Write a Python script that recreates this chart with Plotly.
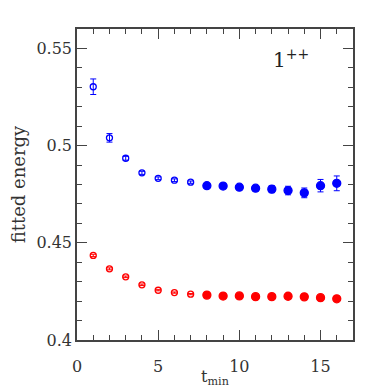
import plotly.graph_objects as go

# t_min values and fitted energies
t_open = [1, 2, 3, 4, 5, 6, 7]
t_fill = [8, 9, 10, 11, 12, 13, 14, 15, 16]

blue_open = [0.5303, 0.5040, 0.4935, 0.4860, 0.4832, 0.4822, 0.4812]
blue_open_err = [0.0040, 0.0022, 0.0010, 0.0008, 0.0007, 0.0007, 0.0006]
blue_fill = [0.4794, 0.4792, 0.4786, 0.4781, 0.4776, 0.4769, 0.4757, 0.4794, 0.4806]
blue_fill_err = [0.0008, 0.0009, 0.0011, 0.0014, 0.0018, 0.0022, 0.0025, 0.0032, 0.0038]

red_open = [0.4435, 0.4366, 0.4325, 0.4284, 0.4256, 0.4244, 0.4236]
red_open_err = [0.0006, 0.0005, 0.0004, 0.0004, 0.0003, 0.0003, 0.0003]
red_fill = [0.4231, 0.4226, 0.4227, 0.4223, 0.4223, 0.4225, 0.4222, 0.4218, 0.4212]
red_fill_err = [0.0003, 0.0003, 0.0003, 0.0003, 0.0003, 0.0003, 0.0003, 0.0004, 0.0004]

serif = "DejaVu Serif, Liberation Serif, serif"

fig = go.Figure()


def add_series(x, y, err, color, symbol, size):
    fig.add_trace(go.Scatter(
        x=x, y=y, mode="markers",
        marker=dict(color=color, symbol=symbol, size=size,
                    line=dict(color=color, width=1.3)),
        error_y=dict(type="data", array=err, color=color, thickness=1, width=3),
        showlegend=False))


add_series(t_open, blue_open, blue_open_err, "#0000ff", "circle-open", 6)
add_series(t_fill, blue_fill, blue_fill_err, "#0000ff", "circle", 8)
add_series(t_open, red_open, red_open_err, "#ff0000", "circle-open", 6)
add_series(t_fill, red_fill, red_fill_err, "#ff0000", "circle", 8)

fig.add_annotation(x=13.2, y=0.5445, text="1<sup>++</sup>", showarrow=False,
                   font=dict(family=serif, size=20, color="#222222"))

axis_common = dict(showgrid=False, zeroline=False, showline=True, linecolor="#444",
                   linewidth=1.5, mirror="allticks", ticks="inside", tickcolor="#444",
                   ticklen=10, tickwidth=1, automargin=False,
                   tickfont=dict(family=serif, size=16, color="#333"))

fig.update_xaxes(range=[0, 17], tickvals=[0, 5, 10, 15], ticklabelstandoff=11,
                 minor=dict(dtick=1, ticks="inside", ticklen=5, tickcolor="#444"),
                 title=dict(text="t<sub>min</sub>", standoff=0,
                            font=dict(family=serif, size=16, color="#333")),
                 **axis_common)
fig.update_yaxes(range=[0.4, 0.56], tickvals=[0.4, 0.45, 0.5, 0.55],
                 ticktext=["0.4", "0.45", "0.5", "0.55"],
                 minor=dict(dtick=0.01, ticks="inside", ticklen=5, tickcolor="#444"),
                 title=dict(text="fitted energy", standoff=8,
                            font=dict(family=serif, size=18, color="#333")),
                 **axis_common)

# page body adds an 8px offset, so the figure is 380px and margins are shifted
fig.update_layout(width=380, height=380, plot_bgcolor="white", paper_bgcolor="white",
                  margin=dict(l=69, r=35, t=21, b=48))

fig.write_html("out.html")
